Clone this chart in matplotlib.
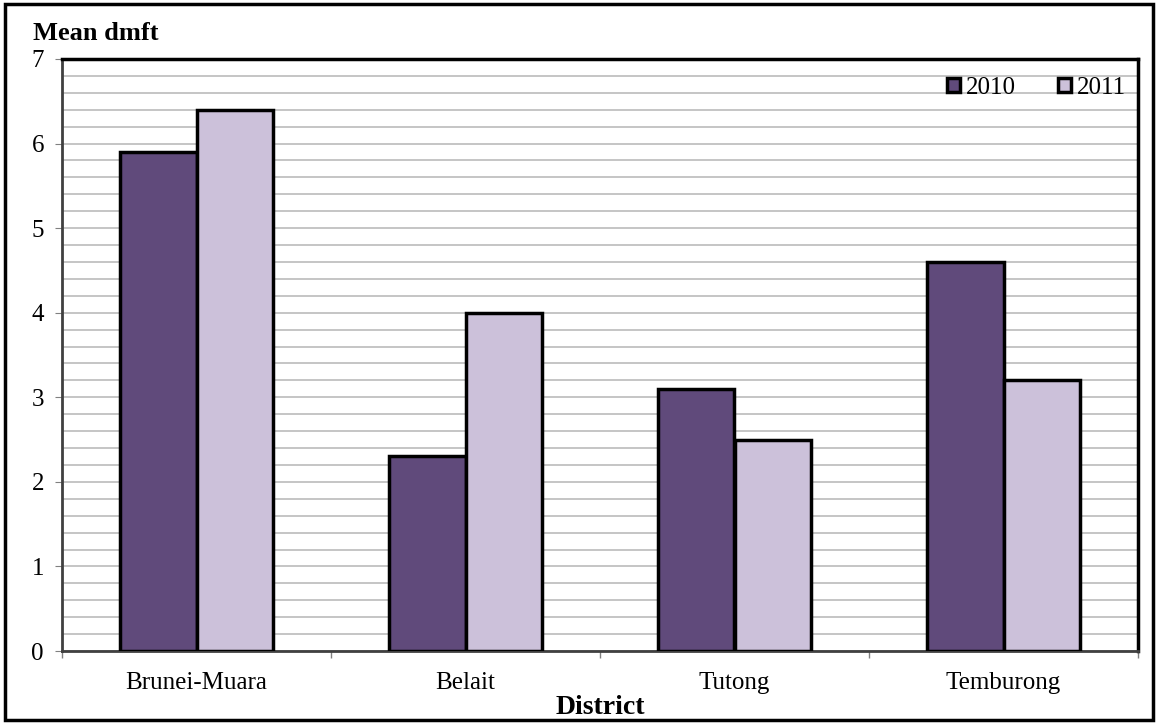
import numpy as np
import matplotlib
matplotlib.use("Agg")
import matplotlib.pyplot as plt
from matplotlib.patches import Rectangle

plt.rcParams["font.family"] = ["Liberation Serif", "DejaVu Serif"]

districts = ["Brunei-Muara", "Belait", "Tutong", "Temburong"]
years = ["2010", "2011"]
dmft_2010 = [5.9, 2.3, 3.1, 4.6]
dmft_2011 = [6.4, 4.0, 2.5, 3.2]
colors = ["#604A7B", "#CCC1DA"]

fig = plt.figure(figsize=(11.57, 7.25), dpi=100)
ax = fig.add_axes([62 / 1157, 1 - 651 / 725, (1138 - 62) / 1157, (651 - 59) / 725])

x = np.arange(len(districts))
w = 1 / 3.5
for i, (vals, yr) in enumerate(zip([dmft_2010, dmft_2011], years)):
    ax.bar(x + (i - 0.5) * w, vals, width=w, color=colors[i], edgecolor="black",
           linewidth=2.5, label=yr, zorder=3)

ax.set_xlim(-0.5, len(districts) - 0.5)
ax.set_ylim(0, 7)
ax.set_yticks(range(8))
ax.set_yticks(np.arange(0, 7.01, 0.2), minor=True)
ax.yaxis.grid(True, which="both", color="#c0c0c0", lw=1.3, zorder=0)
ax.set_xticks(x)
ax.set_xticklabels(districts, fontsize=18)
ax.set_xticks(np.arange(-0.5, len(districts)), minor=True)
ax.tick_params(axis="x", which="major", length=0, pad=15)
ax.tick_params(axis="x", which="minor", length=5, color="#808080", width=1)
ax.tick_params(axis="y", which="major", length=5, color="#808080", labelsize=18, pad=8)
ax.tick_params(axis="y", which="minor", length=0)

for s in ["top", "right"]:
    ax.spines[s].set_linewidth(2.5)
    ax.spines[s].set_color("black")
for s in ["left", "bottom"]:
    ax.spines[s].set_linewidth(2)
    ax.spines[s].set_color("#404040")

ax.set_xlabel("District", fontsize=20, fontweight="bold", labelpad=1)
fig.text(33 / 1157, 1 - 33 / 725, "Mean dmft", fontsize=19, fontweight="bold",
         va="center", ha="left")

leg = ax.legend(loc="upper right", ncol=2, frameon=False, fontsize=18,
                handlelength=0.5, handleheight=0.5, handletextpad=0.25,
                columnspacing=1.7, borderaxespad=0.2, bbox_to_anchor=(1.003, 0.995))
for h in leg.legend_handles:
    h.set_linewidth(2.5)

fig.patches.append(Rectangle((5 / 1157, 5 / 725), 1148 / 1157, 716 / 725,
                             transform=fig.transFigure, fill=False,
                             edgecolor="black", linewidth=2.5))

fig.savefig("out.png", dpi=100)
